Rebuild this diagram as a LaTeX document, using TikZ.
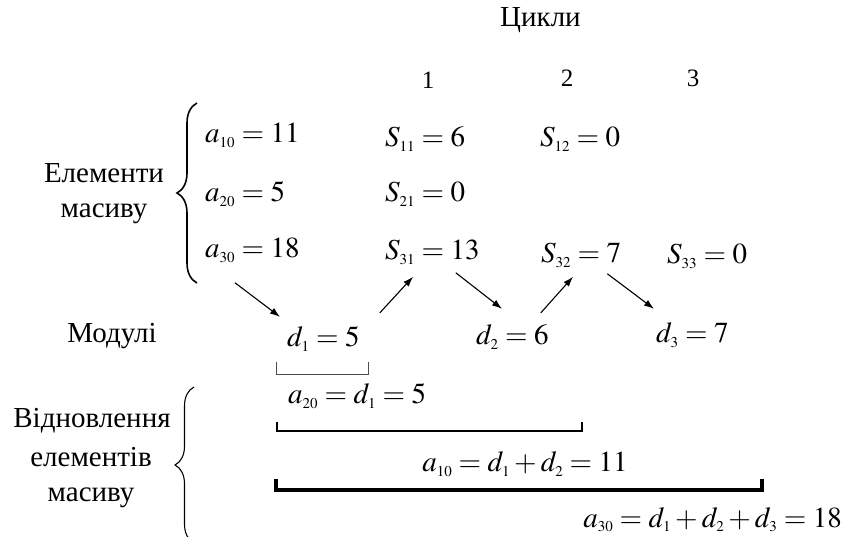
\documentclass[tikz,border=0pt]{standalone}
\usepackage{mathptmx}
\usepackage{fontspec}
\setmainfont{Liberation Serif}
\DeclareMathSizes{29}{29}{15}{11}
\usetikzlibrary{arrows.meta,decorations.pathreplacing}
\tikzset{
  lbl/.style={inner sep=0pt,font=\fontsize{29}{34}\selectfont},
  num/.style={inner sep=0pt,font=\fontsize{25}{30}\selectfont},
  frm/.style={inner sep=0pt,anchor=base west,font=\fontsize{29}{34}\selectfont},
  arr/.style={line width=1.1pt,-{Latex[length=10pt,width=7pt]}},
  lbrace/.style={decorate,decoration={brace,amplitude=#1,aspect=0.5}},
  bar/.style={line cap=butt,line join=miter},
}
\begin{document}
\begin{tikzpicture}[x=1pt,y=-1pt]
  \useasboundingbox (0,0) rectangle (847,537);
  % header
  \node[lbl,anchor=base west] (cyc) at (500,27) {Цикли};
  \node[num,anchor=base] (c1) at (428,89) {1};
  \node[num,anchor=base] (c2) at (567,87) {2};
  \node[num,anchor=base] (c3) at (693,87) {3};
  % array elements
  \node[lbl,anchor=base] (el1) at (104,183) {Елементи};
  \node[lbl,anchor=base] (el2) at (104,218) {масиву};
  \draw[lbrace=20pt,line width=1.6pt] (197,283) -- (197,103);
  \node[frm] (a10) at (205,143) {$a_{10} = 11$};
  \node[frm] (a20) at (205,202) {$a_{20} = 5$};
  \node[frm] (a30) at (205,258) {$a_{30} = 18$};
  % sums per cycle
  \node[frm] (s11) at (385,147) {$S_{11} = 6$};
  \node[frm] (s12) at (540,147) {$S_{12} = 0$};
  \node[frm] (s21) at (385,202) {$S_{21} = 0$};
  \node[frm] (s31) at (385,260) {$S_{31} = 13$};
  \node[frm] (s32) at (541,263) {$S_{32} = 7$};
  \node[frm] (s33) at (667,264) {$S_{33} = 0$};
  % moduli
  \node[lbl,anchor=base] (mod) at (112,343) {Модулі};
  \node[frm] (d1) at (287,347) {$d_{1} = 5$};
  \node[frm] (d2) at (476,345) {$d_{2} = 6$};
  \node[frm] (d3) at (656,343) {$d_{3} = 7$};
  \draw[arr] ([xshift=30pt,yshift=-20pt]a30.south west) -- ([xshift=-7pt,yshift=10pt]d1.north west);
  \draw[arr] ([xshift=20pt,yshift=14pt]d1.north east) -- ([xshift=28pt,yshift=-12pt]s31.south west);
  \draw[arr] ([xshift=-24pt,yshift=-8pt]s31.south east) -- ([xshift=26pt,yshift=16pt]d2.north west);
  \draw[arr] ([xshift=-8pt,yshift=12pt]d2.north east) -- ([xshift=32pt,yshift=-9pt]s32.south west);
  \draw[arr] ([xshift=-14pt,yshift=-6pt]s32.south east) -- ([xshift=-2pt,yshift=14pt]d3.north west);
  % restoring the elements
  \node[lbl,anchor=base] (rs1) at (92,428) {Відновлення};
  \node[lbl,anchor=base] (rs2) at (91,467) {елементів};
  \node[lbl,anchor=base] (rs3) at (91,502) {масиву};
  \draw[lbrace=19pt,line width=1.1pt] (194,543) -- (194,387);
  \draw[bar,line width=0.9pt,black!70] (276,362) -- (276,374) -- (368,374) -- (368,362);
  \node[frm] (r1) at (288,404) {$a_{20} = d_{1} = 5$};
  \draw[bar,line width=2.7pt] (277,422) -- (277,431) -- (582,431) -- (582,422);
  \node[frm,anchor=base] (r2) at (525,472) {$a_{10} = d_{1} + d_{2} = 11$};
  \draw[bar,line width=4pt] (276,479) -- (276,490) -- (762,490) -- (762,479);
  \node[frm,anchor=base east] (r3) at (842,527) {$a_{30} = d_{1} + d_{2} + d_{3} = 18$};
\end{tikzpicture}
\end{document}
